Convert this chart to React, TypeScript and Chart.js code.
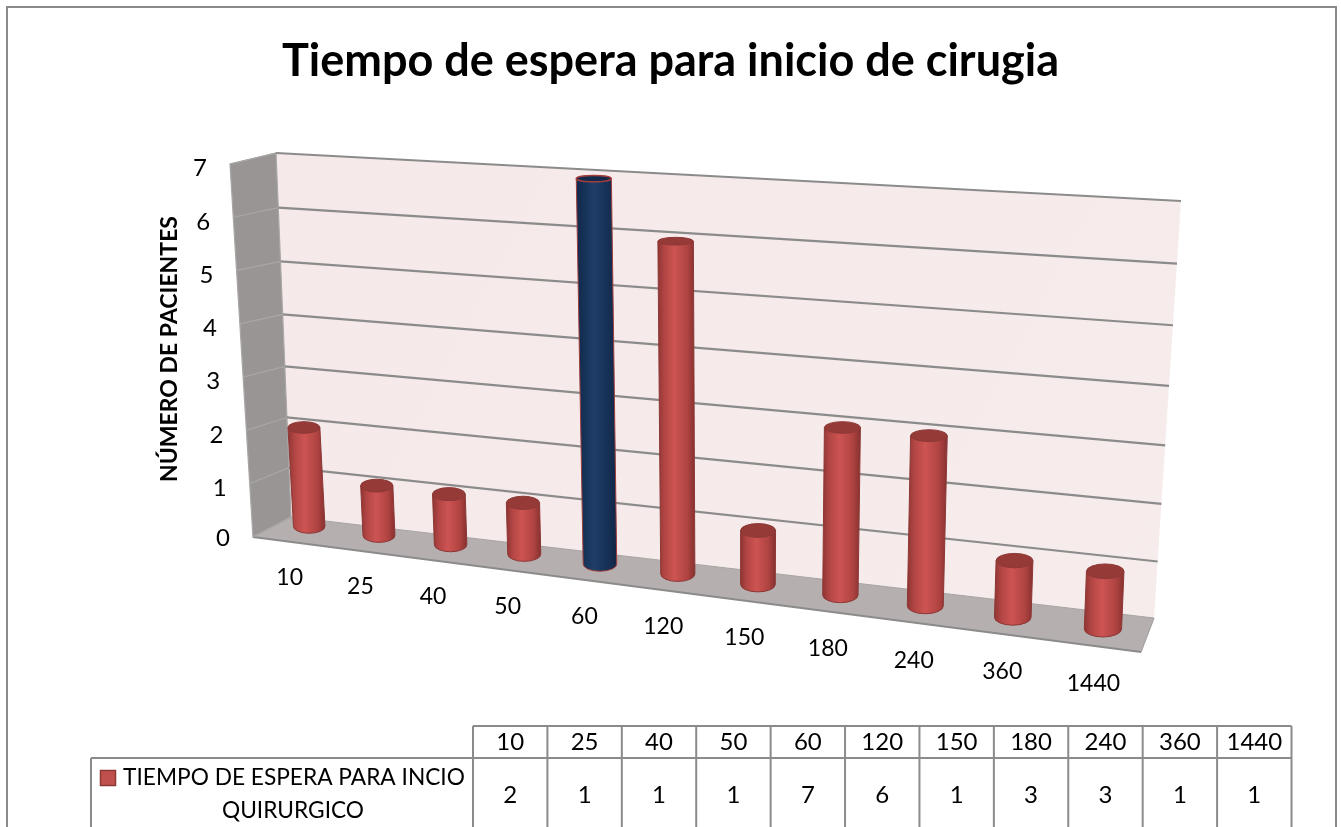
import React, { useEffect, useRef } from "react";
import { Chart, registerables } from "chart.js";

Chart.register(...registerables);

const chartTitle = "Tiempo de espera para inicio de cirugia";
const yAxisTitle = "NÚMERO DE PACIENTES";
const seriesName = "TIEMPO DE ESPERA PARA INCIO QUIRURGICO";
const seriesNameLines = ["TIEMPO DE ESPERA PARA INCIO", "QUIRURGICO"];
const categories = ["10", "25", "40", "50", "60", "120", "150", "180", "240", "360", "1440"];
const patients = [2, 1, 1, 1, 7, 6, 1, 3, 3, 1, 1];
const highlightedIndex = 4;

const FONT = "Lato, Carlito, sans-serif";
const LINE = "#8b8b8b";

type P = [number, number];

// A perspective plane: u is foreshortened across the width, v slightly up the height.
function plane(p00: P, p10: P, p11: P, p01: P) {
  const widthFore = 1.17, heightFore = 0.06;
  const mix = (a: P, b: P, t: number): P => [a[0] + (b[0] - a[0]) * t, a[1] + (b[1] - a[1]) * t];
  return (u: number, v: number): P => {
    const t = u / (u + (1 - u) * widthFore);
    const s = v - heightFore * v * (1 - v);
    return mix(mix(p00, p10, t), mix(p01, p11, t), s);
  };
}

// Frames of the 3-D view: (u,v) are unit coordinates of the chart area.
const backWall = plane([291, 517], [1154, 618], [1181, 201], [276, 153]);
const barPlane = plane([275, 522], [1149, 635], [1168, 205], [254, 163]);
const frontLeft0: P = [253, 537];
const frontLeft7: P = [230, 164];
const frontRight0: P = [1141, 652];

const polygon = (ctx: CanvasRenderingContext2D, pts: P[]) => {
  ctx.beginPath();
  pts.forEach((p, i) => (i ? ctx.lineTo(p[0], p[1]) : ctx.moveTo(p[0], p[1])));
  ctx.closePath();
};
const segment = (ctx: CanvasRenderingContext2D, a: P, b: P) => {
  ctx.beginPath();
  ctx.moveTo(a[0], a[1]);
  ctx.lineTo(b[0], b[1]);
  ctx.stroke();
};

const view3d = {
  id: "view3d",
  beforeDatasetsDraw(chart: any) {
    const ctx: CanvasRenderingContext2D = chart.ctx;
    const yScale = chart.scales.y;
    const xScale = chart.scales.x;
    const area = chart.chartArea;
    const vOf = (val: number) => (area.bottom - yScale.getPixelForValue(val)) / area.height;
    const front = (v: number): P => [
      frontLeft0[0] + (frontLeft7[0] - frontLeft0[0]) * v,
      frontLeft0[1] + (frontLeft7[1] - frontLeft0[1]) * v,
    ];
    ctx.save();
    // frame of the whole chart
    ctx.strokeStyle = "#8a8a8a";
    ctx.lineWidth = 2;
    ctx.strokeRect(7, 7, 1329, 900);

    // back wall
    const grad = ctx.createLinearGradient(276, 153, 1154, 618);
    grad.addColorStop(0, "#f5e9e9");
    grad.addColorStop(1, "#f7ecec");
    ctx.fillStyle = grad;
    polygon(ctx, [backWall(0, 0), backWall(1, 0), backWall(1, 1), backWall(0, 1)]);
    ctx.fill();

    // side wall
    ctx.fillStyle = "#9a9595";
    polygon(ctx, [front(0), backWall(0, 0), backWall(0, 1), front(1)]);
    ctx.fill();
    ctx.strokeStyle = "#a9a6a6";
    ctx.lineWidth = 1.2;
    ctx.stroke();

    // floor
    ctx.fillStyle = "#b6afaf";
    polygon(ctx, [frontLeft0, frontRight0, backWall(1, 0), backWall(0, 0)]);
    ctx.fill();
    ctx.strokeStyle = "#a6a2a2";
    ctx.lineWidth = 1.2;
    segment(ctx, frontLeft0, backWall(0, 0));
    segment(ctx, frontRight0, backWall(1, 0));
    ctx.strokeStyle = LINE;
    ctx.lineWidth = 2;
    segment(ctx, frontLeft0, frontRight0);

    // gridlines and y ticks, from the value scale
    ctx.fillStyle = "#000";
    ctx.font = `24px ${FONT}`;
    ctx.textAlign = "center";
    ctx.textBaseline = "middle";
    yScale.ticks.forEach((t: any) => {
      const v = vOf(t.value);
      if (t.value > 0) {
        ctx.strokeStyle = LINE;
        ctx.lineWidth = 2.2;
        segment(ctx, backWall(0, v), backWall(1, v));
      }
      ctx.strokeStyle = "#a9a6a6";
      ctx.lineWidth = 1.2;
      segment(ctx, front(v), backWall(0, v));
      const f = front(v);
      ctx.fillText(String(t.label), f[0] - 30, f[1] + (v > 0 ? 4.5 : 1));
    });
    ctx.strokeStyle = "#a8a5a5";
    ctx.lineWidth = 1.2;
    segment(ctx, backWall(0, 0), backWall(1, 0));

    // category labels, from the category scale
    ctx.font = `23px ${FONT}`;
    categories.forEach((c, i) => {
      const u = (xScale.getPixelForValue(i) - area.left) / area.width;
      const p = barPlane(u, 0);
      ctx.fillText(c, p[0] - 20 + 11 * u, p[1] + 51 + 4 * u);
    });

    // y axis title
    ctx.save();
    ctx.translate(170, 349);
    ctx.rotate(-Math.PI / 2);
    ctx.font = `bold 23px ${FONT}`;
    ctx.fillText(yAxisTitle, 0, 0);
    ctx.restore();

    // data table
    const tableLeft = 91, colLeft = 473, colRight = 1291.5;
    const topY = 726, midY = 758, botY = 840;
    const colW = (colRight - colLeft) / categories.length;
    ctx.strokeStyle = LINE;
    ctx.lineWidth = 2;
    segment(ctx, [colLeft, topY], [colRight, topY]);
    segment(ctx, [tableLeft, midY], [colRight, midY]);
    segment(ctx, [tableLeft, midY], [tableLeft, botY]);
    for (let i = 0; i <= categories.length; i++) {
      const x = colLeft + i * colW;
      segment(ctx, [x, topY], [x, botY]);
    }
    ctx.fillStyle = "#000";
    ctx.font = `24px ${FONT}`;
    categories.forEach((c, i) => {
      const x = colLeft + (i + 0.5) * colW;
      ctx.fillText(c, x, 742);
      ctx.fillText(String(chart.data.datasets[0].data[i]), x, 795);
    });
    ctx.font = `22.7px ${FONT}`;
    ctx.fillText(seriesNameLines[0], 294, 778);
    ctx.fillText(seriesNameLines[1], 293, 811);
    ctx.fillStyle = "#c0504d";
    ctx.strokeStyle = "#8c3836";
    ctx.lineWidth = 1.5;
    ctx.fillRect(100.5, 770.5, 15, 15);
    ctx.strokeRect(100.5, 770.5, 15, 15);
    ctx.restore();
  },
  beforeDatasetDraw(chart: any, args: any) {
    const ctx: CanvasRenderingContext2D = chart.ctx;
    const area = chart.chartArea;
    const meta = args.meta;
    const U = (x: number) => (x - area.left) / area.width;
    const V = (y: number) => (area.bottom - y) / area.height;
    const ry = (y: number) => 3.2 + (y - 178) * 0.0105;
    meta.data.forEach((bar: any, i: number) => {
      const { x, y, base, width: rawWidth } = bar.getProps(["x", "y", "base", "width"], true);
      const width = rawWidth * (1 - 0.12 * U(x));
      const bl = barPlane(U(x - width / 2), V(base));
      const br = barPlane(U(x + width / 2), V(base));
      const tl = barPlane(U(x - width / 2), V(y));
      const tr = barPlane(U(x + width / 2), V(y));
      const bc = barPlane(U(x), V(base));
      const tc = barPlane(U(x), V(y));
      const isBlue = i === highlightedIndex;
      const g = ctx.createLinearGradient(Math.min(bl[0], tl[0]), 0, Math.max(br[0], tr[0]), 0);
      if (isBlue) {
        g.addColorStop(0, "#10284a");
        g.addColorStop(0.45, "#1f3e68");
        g.addColorStop(1, "#102647");
      } else {
        g.addColorStop(0, "#8f3533");
        g.addColorStop(0.18, "#b24644");
        g.addColorStop(0.45, "#cd5452");
        g.addColorStop(0.8, "#ae4341");
        g.addColorStop(1, "#863130");
      }
      const rb = ry(bc[1]), rt = ry(tc[1]);
      ctx.save();
      ctx.beginPath();
      ctx.moveTo(tl[0], tc[1]);
      ctx.lineTo(bl[0], bc[1]);
      ctx.ellipse((bl[0] + br[0]) / 2, bc[1], (br[0] - bl[0]) / 2, rb, 0, Math.PI, 0, true);
      ctx.lineTo(tr[0], tc[1]);
      ctx.closePath();
      ctx.fillStyle = g;
      ctx.fill();
      ctx.strokeStyle = isBlue ? "#a23f3d" : "#8c3836";
      ctx.lineWidth = 1;
      ctx.stroke();
      ctx.beginPath();
      ctx.ellipse((tl[0] + tr[0]) / 2, tc[1], (tr[0] - tl[0]) / 2, rt, 0, 0, Math.PI * 2);
      ctx.fillStyle = isBlue ? "#14294a" : "#963a38";
      ctx.fill();
      ctx.strokeStyle = isBlue ? "#a23f3d" : "#8c3836";
      ctx.lineWidth = isBlue ? 1.5 : 1;
      ctx.stroke();
      ctx.restore();
    });
    return false;
  },
};

export default function App() {
  const ref = useRef<HTMLCanvasElement | null>(null);
  useEffect(() => {
    if (!ref.current) return;
    const chart = new Chart(ref.current, {
      type: "bar",
      data: {
        labels: categories,
        datasets: [
          {
            label: seriesName,
            data: patients,
            backgroundColor: (c: any) => (c.dataIndex === highlightedIndex ? "#1f3e68" : "#c0504d"),
            barPercentage: 0.46,
            categoryPercentage: 1,
          },
        ],
      },
      options: {
        responsive: false,
        animation: false,
        layout: { padding: { left: 200, right: 200, top: 0, bottom: 170 } },
        plugins: {
          legend: { display: false },
          tooltip: { enabled: false },
          title: {
            display: true,
            text: chartTitle,
            color: "#000",
            font: { family: FONT, size: 45, weight: "bold" },
            padding: { top: 34, bottom: 40 },
          },
        },
        scales: {
          x: { display: false, type: "category" },
          y: { display: false, min: 0, max: 7, ticks: { stepSize: 1 } },
        },
      },
      plugins: [view3d],
    } as any);
    return () => chart.destroy();
  }, []);
  return (
    <div style={{ position: "fixed", left: 0, top: 0, width: 1341, height: 827, background: "#fff", overflow: "hidden" }}>
      <canvas ref={ref} width={1341} height={827} style={{ display: "block" }} />
    </div>
  );
}
